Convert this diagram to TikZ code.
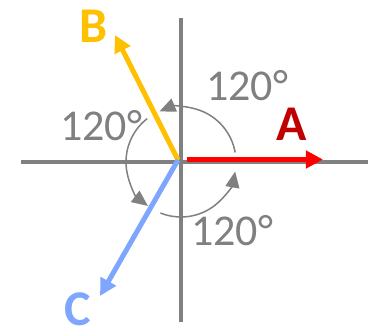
\documentclass[tikz,border=0pt]{standalone}
\usepackage{fontspec}
\setmainfont{Carlito}
\usepackage{tikz}
\usetikzlibrary{arrows.meta}

\definecolor{axgray}{HTML}{808080}
\definecolor{vecred}{HTML}{FF0000}
\definecolor{txtred}{HTML}{C00000}
\definecolor{vecyellow}{HTML}{FFC000}
\definecolor{vecblue}{HTML}{7FA6FF}

\begin{document}
\begin{tikzpicture}[x=1pt, y=1pt,
  ax/.style={draw=axgray, line width=4.5pt},
  vec/.style={line width=5pt, -{Triangle[length=17pt, width=17pt]}},
  turn/.style={draw=axgray, line width=1.5pt, -{Triangle[length=16pt, width=14pt]}},
  deg/.style={text=axgray, inner sep=0pt, font=\fontsize{44}{44}\selectfont},
  lbl/.style={inner sep=0pt, font=\fontsize{50}{50}\selectfont\bfseries}
]
\useasboundingbox (0,0) rectangle (368,333);
% axes
\coordinate (x) at (181,171);
\coordinate (xl) at (21,171);
\coordinate (xr) at (368,171);
\coordinate (yt) at (181,315);
\coordinate (yb) at (181,11);
\draw[ax] (xl) -- (xr);
\draw[ax] (yb) -- (yt);
% turning arcs
\draw[turn] ([shift={(10:55)}]x) arc[start angle=10, end angle=113, radius=55];
\draw[turn] ([shift={(128:55)}]x) arc[start angle=128, end angle=233, radius=55];
\draw[turn] ([shift={(248:55)}]x) arc[start angle=248, end angle=350, radius=55];
% phasors
\coordinate (o) at (178,173);
\coordinate (oa) at (187,173.5);
\coordinate (ta) at (323,173.5);
\coordinate (tb) at (115,298);
\coordinate (tc) at (100,37);
\draw[vec, vecred] (oa) -- (ta);
\draw[vec, vecyellow] (o) -- (tb);
\draw[vec, vecblue] (o) -- (tc);
% labels
\node[lbl, text=txtred] (a) at (292,209) {A};
\node[lbl, text=vecyellow] (b) at (94,307) {B};
\node[lbl, text=vecblue] (c) at (78,24) {C};
\node[deg] (ab) at (247,247) {120°};
\node[deg] (bc) at (101,207) {120°};
\node[deg] (ca) at (232,102) {120°};
\end{tikzpicture}
\end{document}
